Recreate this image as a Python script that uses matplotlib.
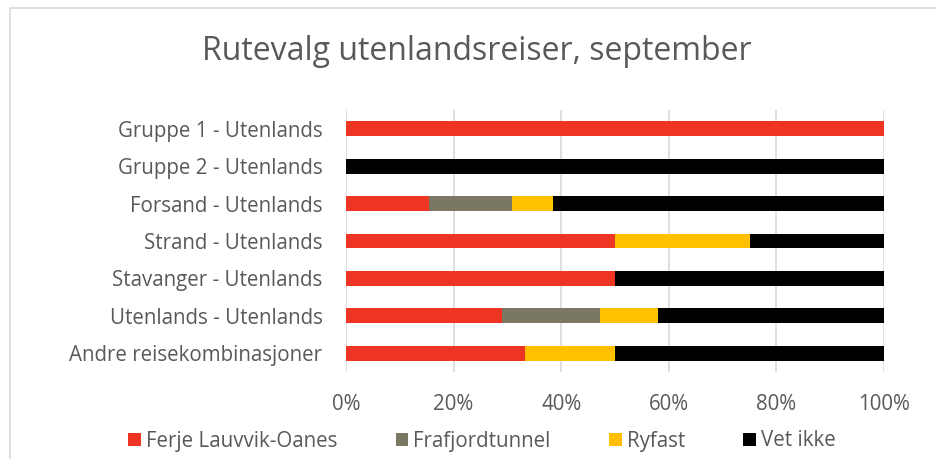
import matplotlib
matplotlib.use("Agg")
import matplotlib.pyplot as plt
from matplotlib.patches import Rectangle

categories = ["Gruppe 1 - Utenlands", "Gruppe 2 - Utenlands", "Forsand - Utenlands",
              "Strand - Utenlands", "Stavanger - Utenlands", "Utenlands - Utenlands",
              "Andre reisekombinasjoner"]
series_names = ["Ferje Lauvvik-Oanes", "Frafjordtunnel", "Ryfast", "Vet ikke"]
ferje = [100, 0, 15.4, 50, 50, 29.0, 33.3]
frafjord = [0, 0, 15.4, 0, 0, 18.2, 0]
ryfast = [0, 0, 7.7, 25, 0, 10.8, 16.7]
vet_ikke = [0, 100, 61.5, 25, 50, 42.0, 50.0]
colors = ["#EE3524", "#7A7762", "#FFC000", "#000000"]
xticks = [0, 20, 40, 60, 80, 100]
xtick_labels = ["0%", "20%", "40%", "60%", "80%", "100%"]

plt.rcParams['font.family'] = ['Open Sans', 'DejaVu Sans']

W, H = 936, 459
fig = plt.figure(figsize=(W/100, H/100), dpi=100)
fig.patch.set_facecolor("white")
fig.patches.append(Rectangle((10/W, -0.1), 1.2, (H-8)/H + 0.1, transform=fig.transFigure,
                             fill=False, edgecolor="#D9D9D9", linewidth=1.2))

ax = fig.add_axes([346/W, 1-372/H, (884-346)/W, (372-110)/H])
ypos = list(range(len(categories)))
left = [0]*len(categories)
for vals, name, c in zip([ferje, frafjord, ryfast, vet_ikke], series_names, colors):
    ax.barh(ypos, vals, left=left, height=0.4, color=c, label=name, zorder=3)
    left = [l+v for l, v in zip(left, vals)]

ax.set_ylim(len(categories)-0.5, -0.5)
ax.set_xlim(0, 100)
ax.set_yticks(ypos)
ax.set_yticklabels(categories, fontsize=14.8, color="#595959")
ax.set_xticks(xticks)
ax.set_xticklabels(xtick_labels, fontsize=14.8, color="#595959")
ax.tick_params(length=0)
ax.tick_params(axis='y', pad=17)
ax.tick_params(axis='x', pad=16)
ax.grid(axis='x', color="#D9D9D9", linewidth=1.2, zorder=0)
for s in ax.spines.values():
    s.set_visible(False)

fig.text(477/W, 1-52/H, "Rutevalg utenlandsreiser, september", ha="center", va="center",
         fontsize=23, color="#595959")

leg = fig.legend(loc="center", bbox_to_anchor=(482/W, 1-441/H), ncol=4, frameon=False,
                 fontsize=14.8, handlelength=0.6, handleheight=0.6, columnspacing=2.85,
                 handletextpad=0.25)
for t in leg.get_texts():
    t.set_color("#595959")

fig.savefig("out.png", dpi=100)
